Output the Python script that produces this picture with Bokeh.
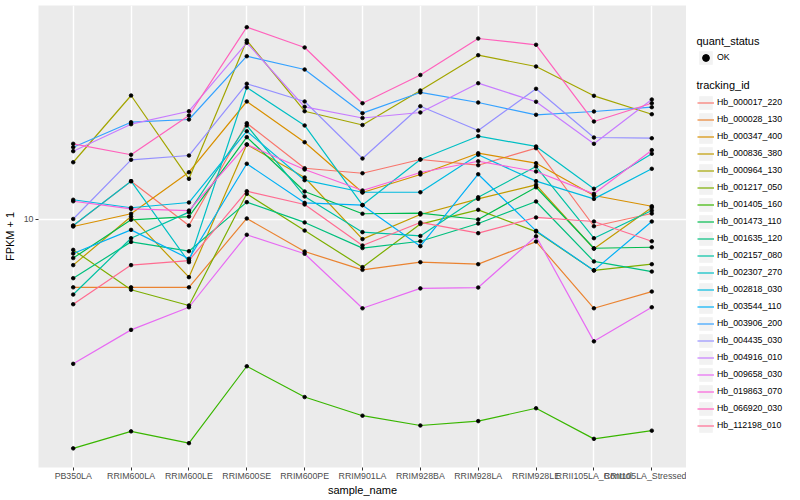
from bokeh.plotting import figure
from bokeh.layouts import row
from bokeh.models import FactorRange, Range1d, FixedTicker, Legend, LegendItem, Label, ColumnDataSource
from bokeh.embed import file_html
from bokeh.resources import INLINE

samples = ["PB350LA", "RRIM600LA", "RRIM600LE", "RRIM600SE", "RRIM600PE", "RRIM901LA",
           "RRIM928BA", "RRIM928LA", "RRIM928LE", "RRII105LA_Control", "RRII105LA_Stressed"]

tracking_ids = ["Hb_000017_220", "Hb_000028_130", "Hb_000347_400", "Hb_000836_380", "Hb_000964_130",
                "Hb_001217_050", "Hb_001405_160", "Hb_001473_110", "Hb_001635_120", "Hb_002157_080",
                "Hb_002307_270", "Hb_002818_030", "Hb_003544_110", "Hb_003906_200", "Hb_004435_030",
                "Hb_004916_010", "Hb_009658_030", "Hb_019863_070", "Hb_066920_030", "Hb_112198_010"]

colors = ["#F8766D", "#EA8331", "#D89000", "#C09B00", "#A3A500", "#7CAE00", "#39B600", "#00BB4E",
          "#00BF7D", "#00C1A3", "#00BFC4", "#00BAE0", "#00B0F6", "#35A2FF", "#9590FF", "#C77CFF",
          "#E76BF3", "#FA62DB", "#FF62BC", "#FF6C91"]

# FPKM + 1 per sample
hb_000017_220 = [9.49, 13.37, 9.51, 20.86, 14.76, 14.21, 15.79, 15.11, 17.22, 9.46, 10.43]
hb_000028_130 = [5.92, 5.92, 5.92, 10.04, 7.79, 6.77, 7.18, 7.07, 8.41, 5.04, 5.73]
hb_000347_400 = [9.44, 10.41, 14.32, 24.64, 18.03, 12.26, 14.07, 16.57, 15.35, 11.98, 11.03]
hb_000836_380 = [7.02, 10.19, 6.40, 17.71, 13.75, 8.57, 10.35, 11.67, 13.00, 7.96, 10.92]
hb_000964_130 = [15.46, 25.80, 13.61, 39.36, 22.87, 20.57, 26.81, 35.16, 32.24, 25.74, 22.35]
hb_001217_050 = [7.89, 5.81, 5.15, 12.13, 9.15, 6.91, 9.62, 10.73, 9.08, 6.74, 7.07]
hb_001405_160 = [1.72, 1.96, 1.79, 3.23, 2.55, 2.21, 2.05, 2.12, 2.34, 1.85, 1.97]
hb_001473_110 = [7.41, 9.94, 10.19, 18.74, 12.35, 10.41, 10.46, 9.96, 12.76, 7.99, 8.05]
hb_001635_120 = [6.35, 8.39, 7.81, 11.38, 9.74, 8.00, 8.43, 9.66, 11.44, 7.22, 6.68]
hb_002157_080 = [5.60, 8.63, 10.54, 20.50, 11.89, 9.04, 8.78, 11.82, 14.96, 8.63, 10.67]
hb_002307_270 = [9.51, 13.37, 7.18, 27.43, 20.50, 11.13, 15.79, 18.88, 17.45, 12.61, 16.50]
hb_002818_030 = [11.59, 10.90, 11.35, 19.62, 13.47, 12.28, 12.28, 16.37, 13.37, 11.67, 14.70]
hb_003544_110 = [7.67, 9.20, 7.37, 15.28, 11.32, 11.12, 8.12, 14.10, 9.13, 6.74, 9.81]
hb_003906_200 = [17.35, 21.02, 21.46, 34.89, 31.50, 22.53, 26.41, 24.45, 22.25, 22.82, 23.59]
hb_004435_030 = [10.00, 15.75, 16.28, 28.23, 24.64, 15.91, 23.77, 19.72, 27.16, 18.69, 18.59]
hb_004916_010 = [16.83, 20.70, 22.87, 38.67, 23.66, 21.71, 22.65, 28.36, 24.59, 17.81, 25.02]
hb_009658_030 = [3.29, 4.27, 5.08, 8.86, 7.66, 5.04, 5.87, 5.91, 8.76, 3.91, 5.08]
hb_019863_070 = [11.46, 10.81, 10.67, 17.71, 14.62, 12.45, 14.29, 15.58, 14.40, 12.13, 16.96]
hb_066920_030 = [17.81, 16.37, 22.13, 43.59, 37.30, 24.32, 30.20, 39.97, 38.08, 21.13, 24.32]
hb_112198_010 = [5.20, 7.02, 7.27, 12.38, 11.18, 8.16, 9.74, 8.97, 10.12, 9.81, 8.43]

series = [hb_000017_220, hb_000028_130, hb_000347_400, hb_000836_380, hb_000964_130,
          hb_001217_050, hb_001405_160, hb_001473_110, hb_001635_120, hb_002157_080,
          hb_002307_270, hb_002818_030, hb_003544_110, hb_003906_200, hb_004435_030,
          hb_004916_010, hb_009658_030, hb_019863_070, hb_066920_030, hb_112198_010]

y_ticks = [10]
FONT = "Liberation Sans"

p = figure(width=686, height=500,
           x_range=FactorRange(factors=samples, range_padding=0.1, range_padding_units="absolute"),
           y_range=Range1d(1.485, 51.48), y_axis_type="log",
           output_backend="svg", toolbar_location=None,
           min_border_left=35, min_border_right=0, min_border_top=5, min_border_bottom=33)

p.background_fill_color = "#EBEBEB"
p.border_fill_color = "white"
p.outline_line_color = None

p.yaxis.ticker = FixedTicker(ticks=y_ticks)
p.ygrid.ticker = FixedTicker(ticks=y_ticks)
p.yaxis.major_label_overrides = {10: "10"}
for g in (p.xgrid, p.ygrid):
    g.grid_line_color = "white"
    g.grid_line_width = 1.4

for ax in (p.xaxis, p.yaxis):
    ax.axis_line_color = None
    ax.major_tick_line_color = "#333333"
    ax.major_tick_in = 0
    ax.major_tick_out = 3
    ax.minor_tick_line_color = None
    ax.major_label_text_color = "#4D4D4D"
    ax.major_label_text_font = FONT
    ax.major_label_text_font_size = "8.8px"
    ax.major_label_standoff = 0
    ax.axis_label_text_font = FONT
    ax.axis_label_text_font_size = "11px"
    ax.axis_label_text_font_style = "normal"
    ax.axis_label_text_color = "black"
    ax.axis_label_standoff = 0
p.yaxis.major_label_standoff = 2
p.yaxis.axis_label_standoff = 5
p.xaxis.axis_label = "sample_name"
p.yaxis.axis_label = "FPKM + 1"

for name, col, vals in zip(tracking_ids, colors, series):
    src = ColumnDataSource(dict(x=samples, y=vals))
    p.line("x", "y", source=src, line_color=col, line_width=1.2)

for vals in series:
    src = ColumnDataSource(dict(x=samples, y=vals))
    p.scatter("x", "y", source=src, size=3.6, marker="circle",
              fill_color="black", line_color="black", line_width=0.8)

# legend panel (proxy glyphs sit outside its 0..1 view, so only their legend keys show)
lp = figure(width=114, height=500, x_range=Range1d(0, 1), y_range=Range1d(0, 1),
            x_axis_location=None, y_axis_location=None,
            output_backend="svg", toolbar_location=None,
            min_border_left=0, min_border_right=0, min_border_top=5, min_border_bottom=33)
lp.grid.visible = False
lp.outline_line_color = None
lp.background_fill_color = "white"
lp.border_fill_color = "white"

far = hb_001405_160[:1]
bg = lp.quad(left=far, right=far, top=far, bottom=far, fill_color="#F2F2F2", line_color=None)
pt = lp.scatter(x=far, y=far, marker="circle", fill_color="black", line_color="black")
keys = [lp.line(x=vals, y=vals, line_color=c, line_width=1.2) for c, vals in zip(colors, series)]

def style_legend(lg):
    lg.padding = 0
    lg.spacing = 0
    lg.margin = 0
    lg.border_line_color = None
    lg.background_fill_alpha = 0
    lg.glyph_width = 17
    lg.glyph_height = 17
    lg.label_height = 17
    lg.label_standoff = 3
    lg.label_text_font = FONT
    lg.label_text_font_size = "8.8px"
    lg.label_text_color = "black"

legend1 = Legend(items=[LegendItem(label="OK", renderers=[bg, pt])], location=(11, 401.5))
style_legend(legend1)
legend2 = Legend(items=[LegendItem(label=n, renderers=[bg, r]) for n, r in zip(tracking_ids, keys)],
                 location=(11, 33.5))
style_legend(legend2)
lp.add_layout(legend1)
lp.add_layout(legend2)

for txt, yy in (("quant_status", 427), ("tracking_id", 383)):
    lp.add_layout(Label(x=10, y=yy, x_units="screen", y_units="screen", text=txt,
                        text_font=FONT, text_font_size="11px", text_baseline="middle",
                        text_color="black"))

layout = row(p, lp)
open("out.html", "w").write(file_html(layout, INLINE))
